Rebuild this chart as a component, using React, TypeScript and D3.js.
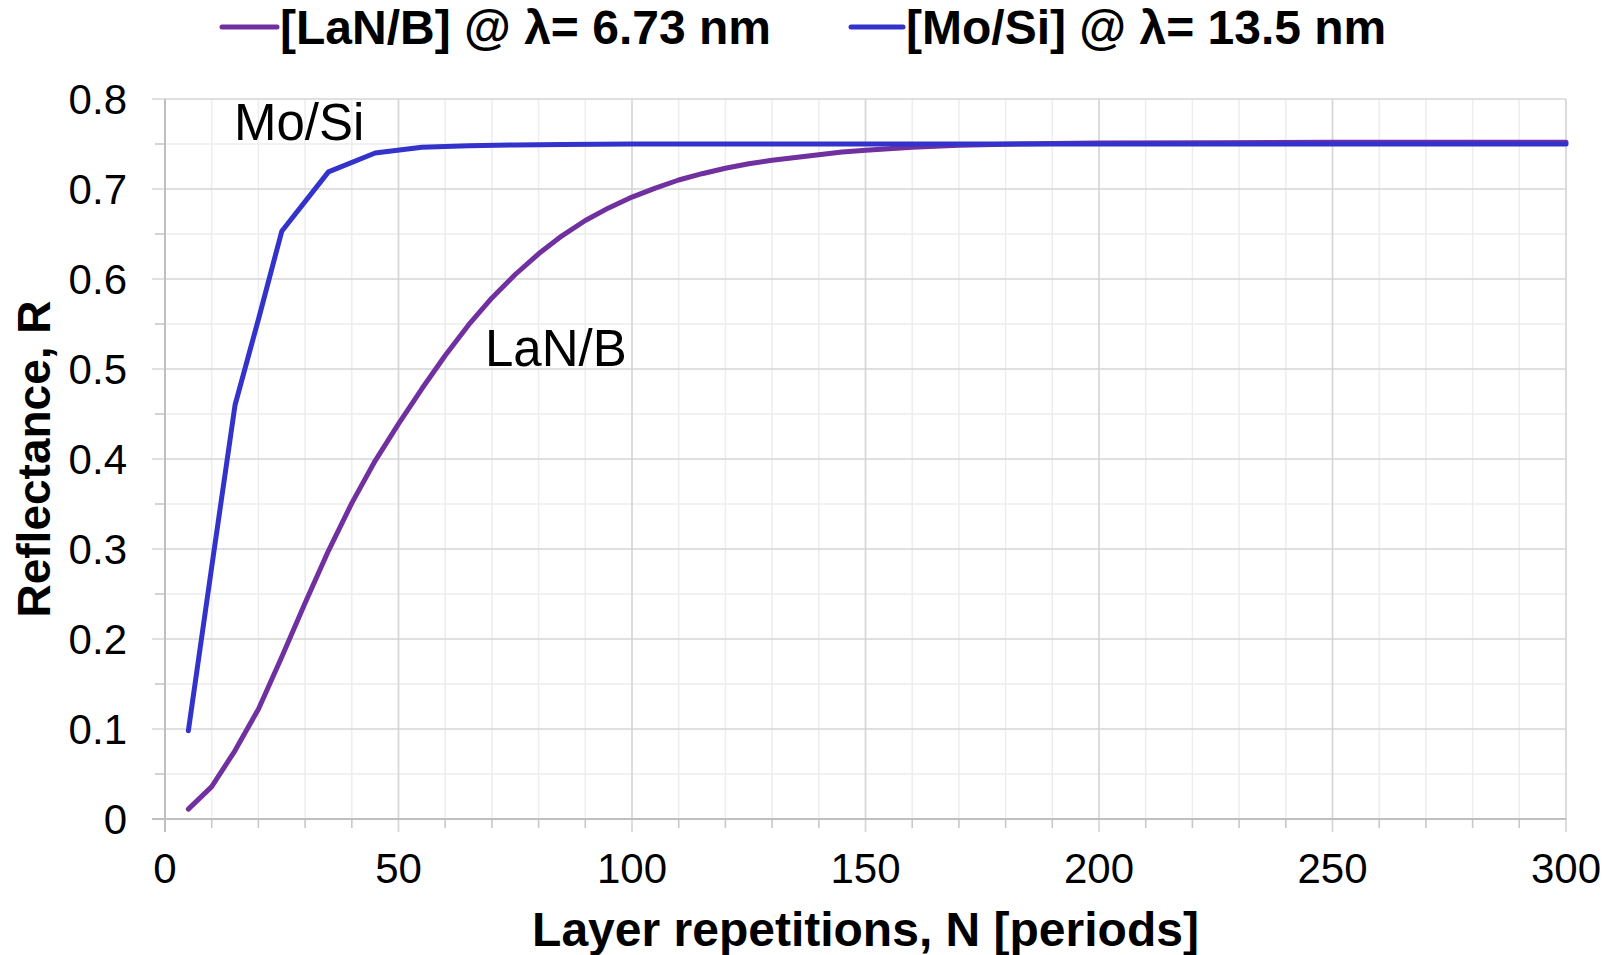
import React from "react";
import * as d3 from "d3";

const lanbN = [5, 10, 15, 20, 25, 30, 35, 40, 45, 50, 55, 60, 65, 70, 75, 80, 85, 90, 95, 100, 105, 110, 115, 120, 125, 130, 135, 140, 145, 150, 160, 170, 180, 190, 200, 225, 250, 275, 300];
const lanbR = [0.011, 0.036, 0.076, 0.122, 0.180, 0.240, 0.298, 0.351, 0.398, 0.439, 0.478, 0.515, 0.549, 0.579, 0.605, 0.628, 0.648, 0.665, 0.679, 0.691, 0.701, 0.710, 0.717, 0.723, 0.728, 0.732, 0.735, 0.738, 0.741, 0.743, 0.7465, 0.7485, 0.7497, 0.7505, 0.751, 0.7515, 0.752, 0.752, 0.752];

const mosiN = [5, 10, 15, 20, 25, 35, 45, 55, 65, 75, 85, 100, 150, 200, 250, 300];
const mosiR = [0.098, 0.28, 0.46, 0.555, 0.653, 0.719, 0.740, 0.7465, 0.748, 0.749, 0.7495, 0.75, 0.75, 0.75, 0.75, 0.75];

const xMajorTicks = [0, 50, 100, 150, 200, 250, 300];
const yMajorTicks = [0, 0.1, 0.2, 0.3, 0.4, 0.5, 0.6, 0.7, 0.8];

const legendLabels = ["[LaN/B] @ λ= 6.73 nm", "[Mo/Si] @ λ= 13.5 nm"];
const seriesColors = ["#7030A0", "#3333CC"];
const xTitle = "Layer repetitions, N [periods]";
const yTitle = "Reflectance, R";

const W = 1608;
const H = 955;
const M = { left: 165, right: 1566, top: 99, bottom: 819 };
const FONT = "'Liberation Sans', Arial, Helvetica, sans-serif";

export default function App() {
  const x = d3.scaleLinear().domain([0, 300]).range([M.left, M.right]);
  const y = d3.scaleLinear().domain([0, 0.8]).range([M.bottom, M.top]);

  const xMinor = d3.range(0, 301, 10).filter((v) => v % 50 !== 0);
  const yMinor = d3.range(0.05, 0.8, 0.1);

  const line = d3
    .line<[number, number]>()
    .x((d) => x(d[0]))
    .y((d) => y(d[1]));

  const lanb = lanbN.map((n, i) => [n, lanbR[i]] as [number, number]);
  const mosi = mosiN.map((n, i) => [n, mosiR[i]] as [number, number]);

  const legendPos = [
    { x1: 222, x2: 277, tx: 280 },
    { x1: 851, x2: 903, tx: 906 },
  ];

  return (
    <svg width={W} height={H} style={{ position: "absolute", left: 0, top: 0, background: "#fff" }} fontFamily={FONT}>
      <rect x={0} y={0} width={W} height={H} fill="#fff" />
      {/* minor grid */}
      {xMinor.map((v) => (
        <line key={"xm" + v} x1={x(v)} x2={x(v)} y1={y(0.8)} y2={y(0) + 9} stroke="#ededed" strokeWidth={1.5} />
      ))}
      {yMinor.map((v) => (
        <line key={"ym" + v} x1={x(0) - 10} x2={x(300)} y1={y(v)} y2={y(v)} stroke="#ededed" strokeWidth={1.5} />
      ))}
      {/* minor ticks */}
      {xMinor.map((v) => (
        <line key={"xmt" + v} x1={x(v)} x2={x(v)} y1={y(0)} y2={y(0) + 9} stroke="#c8c8c8" strokeWidth={1.5} />
      ))}
      {yMinor.map((v) => (
        <line key={"ymt" + v} x1={x(0) - 10} x2={x(0)} y1={y(v)} y2={y(v)} stroke="#c8c8c8" strokeWidth={1.5} />
      ))}
      {/* major grid */}
      {xMajorTicks.map((v) => (
        <line key={"xM" + v} x1={x(v)} x2={x(v)} y1={y(0.8)} y2={y(0) + 13} stroke="#d6d6d6" strokeWidth={1.7} />
      ))}
      {yMajorTicks.map((v) => (
        <line key={"yM" + v} x1={x(0) - 13} x2={x(300)} y1={y(v)} y2={y(v)} stroke="#d6d6d6" strokeWidth={1.7} />
      ))}
      {/* axes */}
      <line x1={x(0)} x2={x(0)} y1={y(0.8)} y2={y(0) + 13} stroke="#bfbfbf" strokeWidth={2} />
      <line x1={x(0) - 13} x2={x(300)} y1={y(0)} y2={y(0)} stroke="#bfbfbf" strokeWidth={2} />

      {/* tick labels */}
      {yMajorTicks.map((v) => (
        <text key={"yl" + v} x={127} y={y(v)} dy="0.36em" textAnchor="end" fontSize={42} fill="#000">
          {v === 0 ? "0" : d3.format(".1f")(v)}
        </text>
      ))}
      {xMajorTicks.map((v) => (
        <text key={"xl" + v} x={x(v)} y={883} textAnchor="middle" fontSize={42} fill="#000">
          {v}
        </text>
      ))}

      {/* series */}
      <path d={line(lanb) || ""} fill="none" stroke={seriesColors[0]} strokeWidth={5} strokeLinejoin="round" strokeLinecap="round" />
      <path d={line(mosi) || ""} fill="none" stroke={seriesColors[1]} strokeWidth={5} strokeLinejoin="round" strokeLinecap="round" />

      {/* annotations */}
      <text x={234} y={140} fontSize={51} fill="#000">Mo/Si</text>
      <text x={485} y={366} fontSize={51} fill="#000">LaN/B</text>

      {/* legend */}
      {legendLabels.map((lab, i) => (
        <g key={"lg" + i}>
          <line x1={legendPos[i].x1} x2={legendPos[i].x2} y1={27} y2={27} stroke={seriesColors[i]} strokeWidth={5} strokeLinecap="round" />
          <text x={legendPos[i].tx} y={44} fontSize={48} fontWeight="bold" fill="#000">
            {lab}
          </text>
        </g>
      ))}

      {/* axis titles */}
      <text x={(M.left + M.right) / 2} y={946} textAnchor="middle" fontSize={48} fontWeight="bold" fill="#000">
        {xTitle}
      </text>
      <text transform={`translate(50, ${(M.top + M.bottom) / 2}) rotate(-90)`} textAnchor="middle" fontSize={46} fontWeight="bold" fill="#000">
        {yTitle}
      </text>
    </svg>
  );
}
